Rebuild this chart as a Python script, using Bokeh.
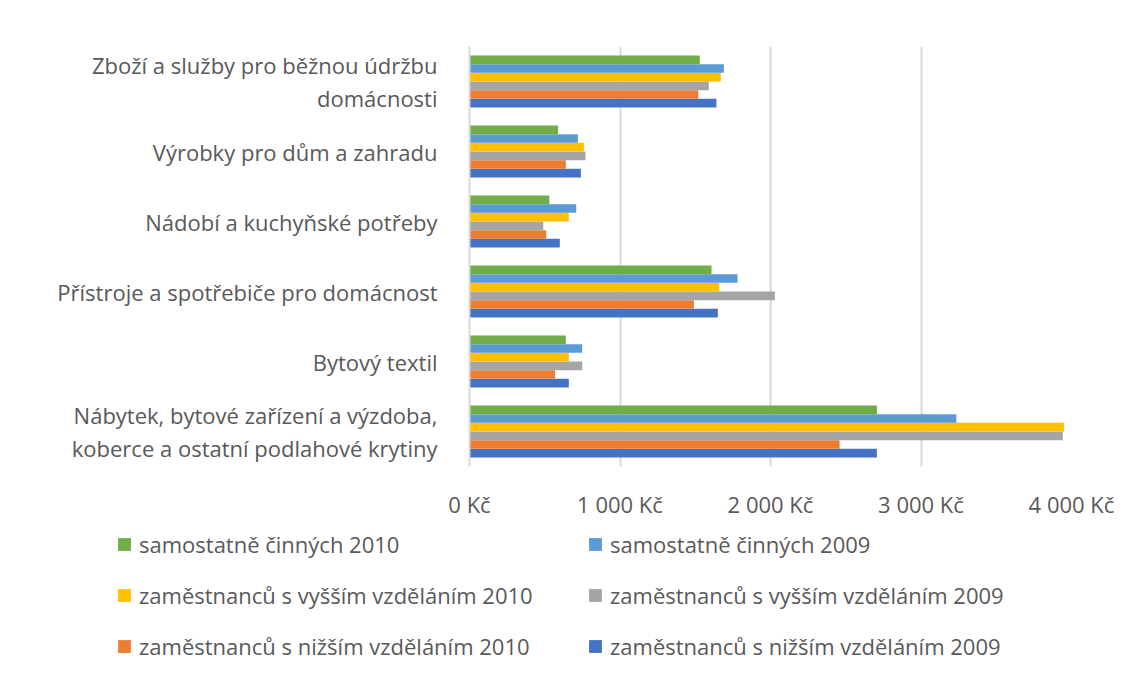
from bokeh.plotting import figure
from bokeh.models import FactorRange, Range1d, FixedTicker, Legend, LegendItem
from bokeh.transform import dodge
from bokeh.embed import file_html
from bokeh.resources import INLINE

# categories bottom -> top
categories = [
    "Nábytek, bytové zařízení a výzdoba,\nkoberce a ostatní podlahové krytiny",
    "Bytový textil",
    "Přístroje a spotřebiče pro domácnost",
    "Nádobí a kuchyňské potřeby",
    "Výrobky pro dům a zahradu",
    "Zboží a služby pro běžnou údržbu\ndomácnosti",
]

nizsi_2009 = [2707, 660, 1650, 600, 740, 1641]
nizsi_2010 = [2459, 569, 1491, 510, 640, 1520]
vyssi_2009 = [3942, 749, 2029, 490, 771, 1590]
vyssi_2010 = [3950, 660, 1659, 660, 760, 1670]
samost_2009 = [3235, 749, 1781, 709, 720, 1690]
samost_2010 = [2707, 640, 1608, 530, 589, 1530]

series_names = [
    "zaměstnanců s nižším vzděláním 2009",
    "zaměstnanců s nižším vzděláním 2010",
    "zaměstnanců s vyšším vzděláním 2009",
    "zaměstnanců s vyšším vzděláním 2010",
    "samostatně činných 2009",
    "samostatně činných 2010",
]
series_values = [nizsi_2009, nizsi_2010, vyssi_2009, vyssi_2010, samost_2009, samost_2010]
series_colors = ["#4472C4", "#ED7D31", "#A5A5A5", "#FFC000", "#5B9BD5", "#70AD47"]

x_ticks = [0, 1000, 2000, 3000, 4000]
x_tick_labels = ["0 Kč", "1 000 Kč", "2 000 Kč", "3 000 Kč", "4 000 Kč"]

FONT = "Open Sans"
TXT = "#595959"
W = 1120
H = 530

p = figure(
    width=W, height=H,
    y_range=FactorRange(*categories, range_padding=0),
    x_range=Range1d(0, 4000),
    output_backend="svg", toolbar_location=None,
    min_border_left=469, min_border_right=W - 1071, min_border_top=46,
    min_border_bottom=H - 466,
)
p.outline_line_color = None

bar_h = 0.124
for i, (name, vals, col) in enumerate(zip(series_names, series_values, series_colors)):
    off = (i - 2.5) * bar_h
    data = {"cat": categories, "val": vals}
    p.hbar(y=dodge("cat", off, range=p.y_range), right="val", left=0,
           height=bar_h, source=data, fill_color=col, line_color=None)

p.xaxis.ticker = FixedTicker(ticks=x_ticks)
p.xaxis.major_label_overrides = {t: l for t, l in zip(x_ticks, x_tick_labels)}
p.xaxis.axis_line_color = None
p.xaxis.major_tick_line_color = None
p.xaxis.minor_tick_line_color = None
p.xaxis.major_label_text_font = FONT
p.xaxis.major_label_text_font_size = "22px"
p.xaxis.major_label_text_color = TXT
p.xaxis.major_label_standoff = 16

p.yaxis.axis_line_color = "#d9d9d9"
p.yaxis.axis_line_width = 2
p.yaxis.major_tick_line_color = None
p.yaxis.minor_tick_line_color = None
p.yaxis.major_label_text_font = FONT
p.yaxis.major_label_text_font_size = "22px"
p.yaxis.major_label_text_color = TXT
p.yaxis.major_label_standoff = 26
p.yaxis.major_label_text_line_height = 1.1

p.ygrid.grid_line_color = None
p.xgrid.grid_line_color = "#d9d9d9"
p.xgrid.grid_line_width = 2

# separate legend figure (legend proxies: zero-width bars outside the visible range)
LH = 683 - H
lf = figure(width=W, height=LH, x_range=Range1d(0, 1), y_range=Range1d(0, 1),
            output_backend="svg", toolbar_location=None,
            min_border_left=0, min_border_right=0, min_border_top=0, min_border_bottom=0,
            x_axis_location=None, y_axis_location=None)
lf.outline_line_color = None
lf.grid.grid_line_color = None
proxies = [lf.hbar(y=[-5], right=[0], left=[0], height=0.1, fill_color=c, line_color=None)
           for c in series_colors]

def make_legend(idx, loc):
    items = [LegendItem(label=series_names[i], renderers=[proxies[i]]) for i in idx]
    return Legend(items=items, location=loc, orientation="vertical",
                  glyph_width=16, glyph_height=16, label_height=30,
                  spacing=21, padding=0, margin=0, label_standoff=7,
                  label_text_font=FONT, label_text_font_size="22px",
                  label_text_color=TXT, border_line_color=None,
                  background_fill_alpha=0)

lf.add_layout(make_legend([5, 3, 1], (116, 22)))
lf.add_layout(make_legend([4, 2, 0], (587, 22)))

open("out.html", "w").write(file_html([p, lf], INLINE))
